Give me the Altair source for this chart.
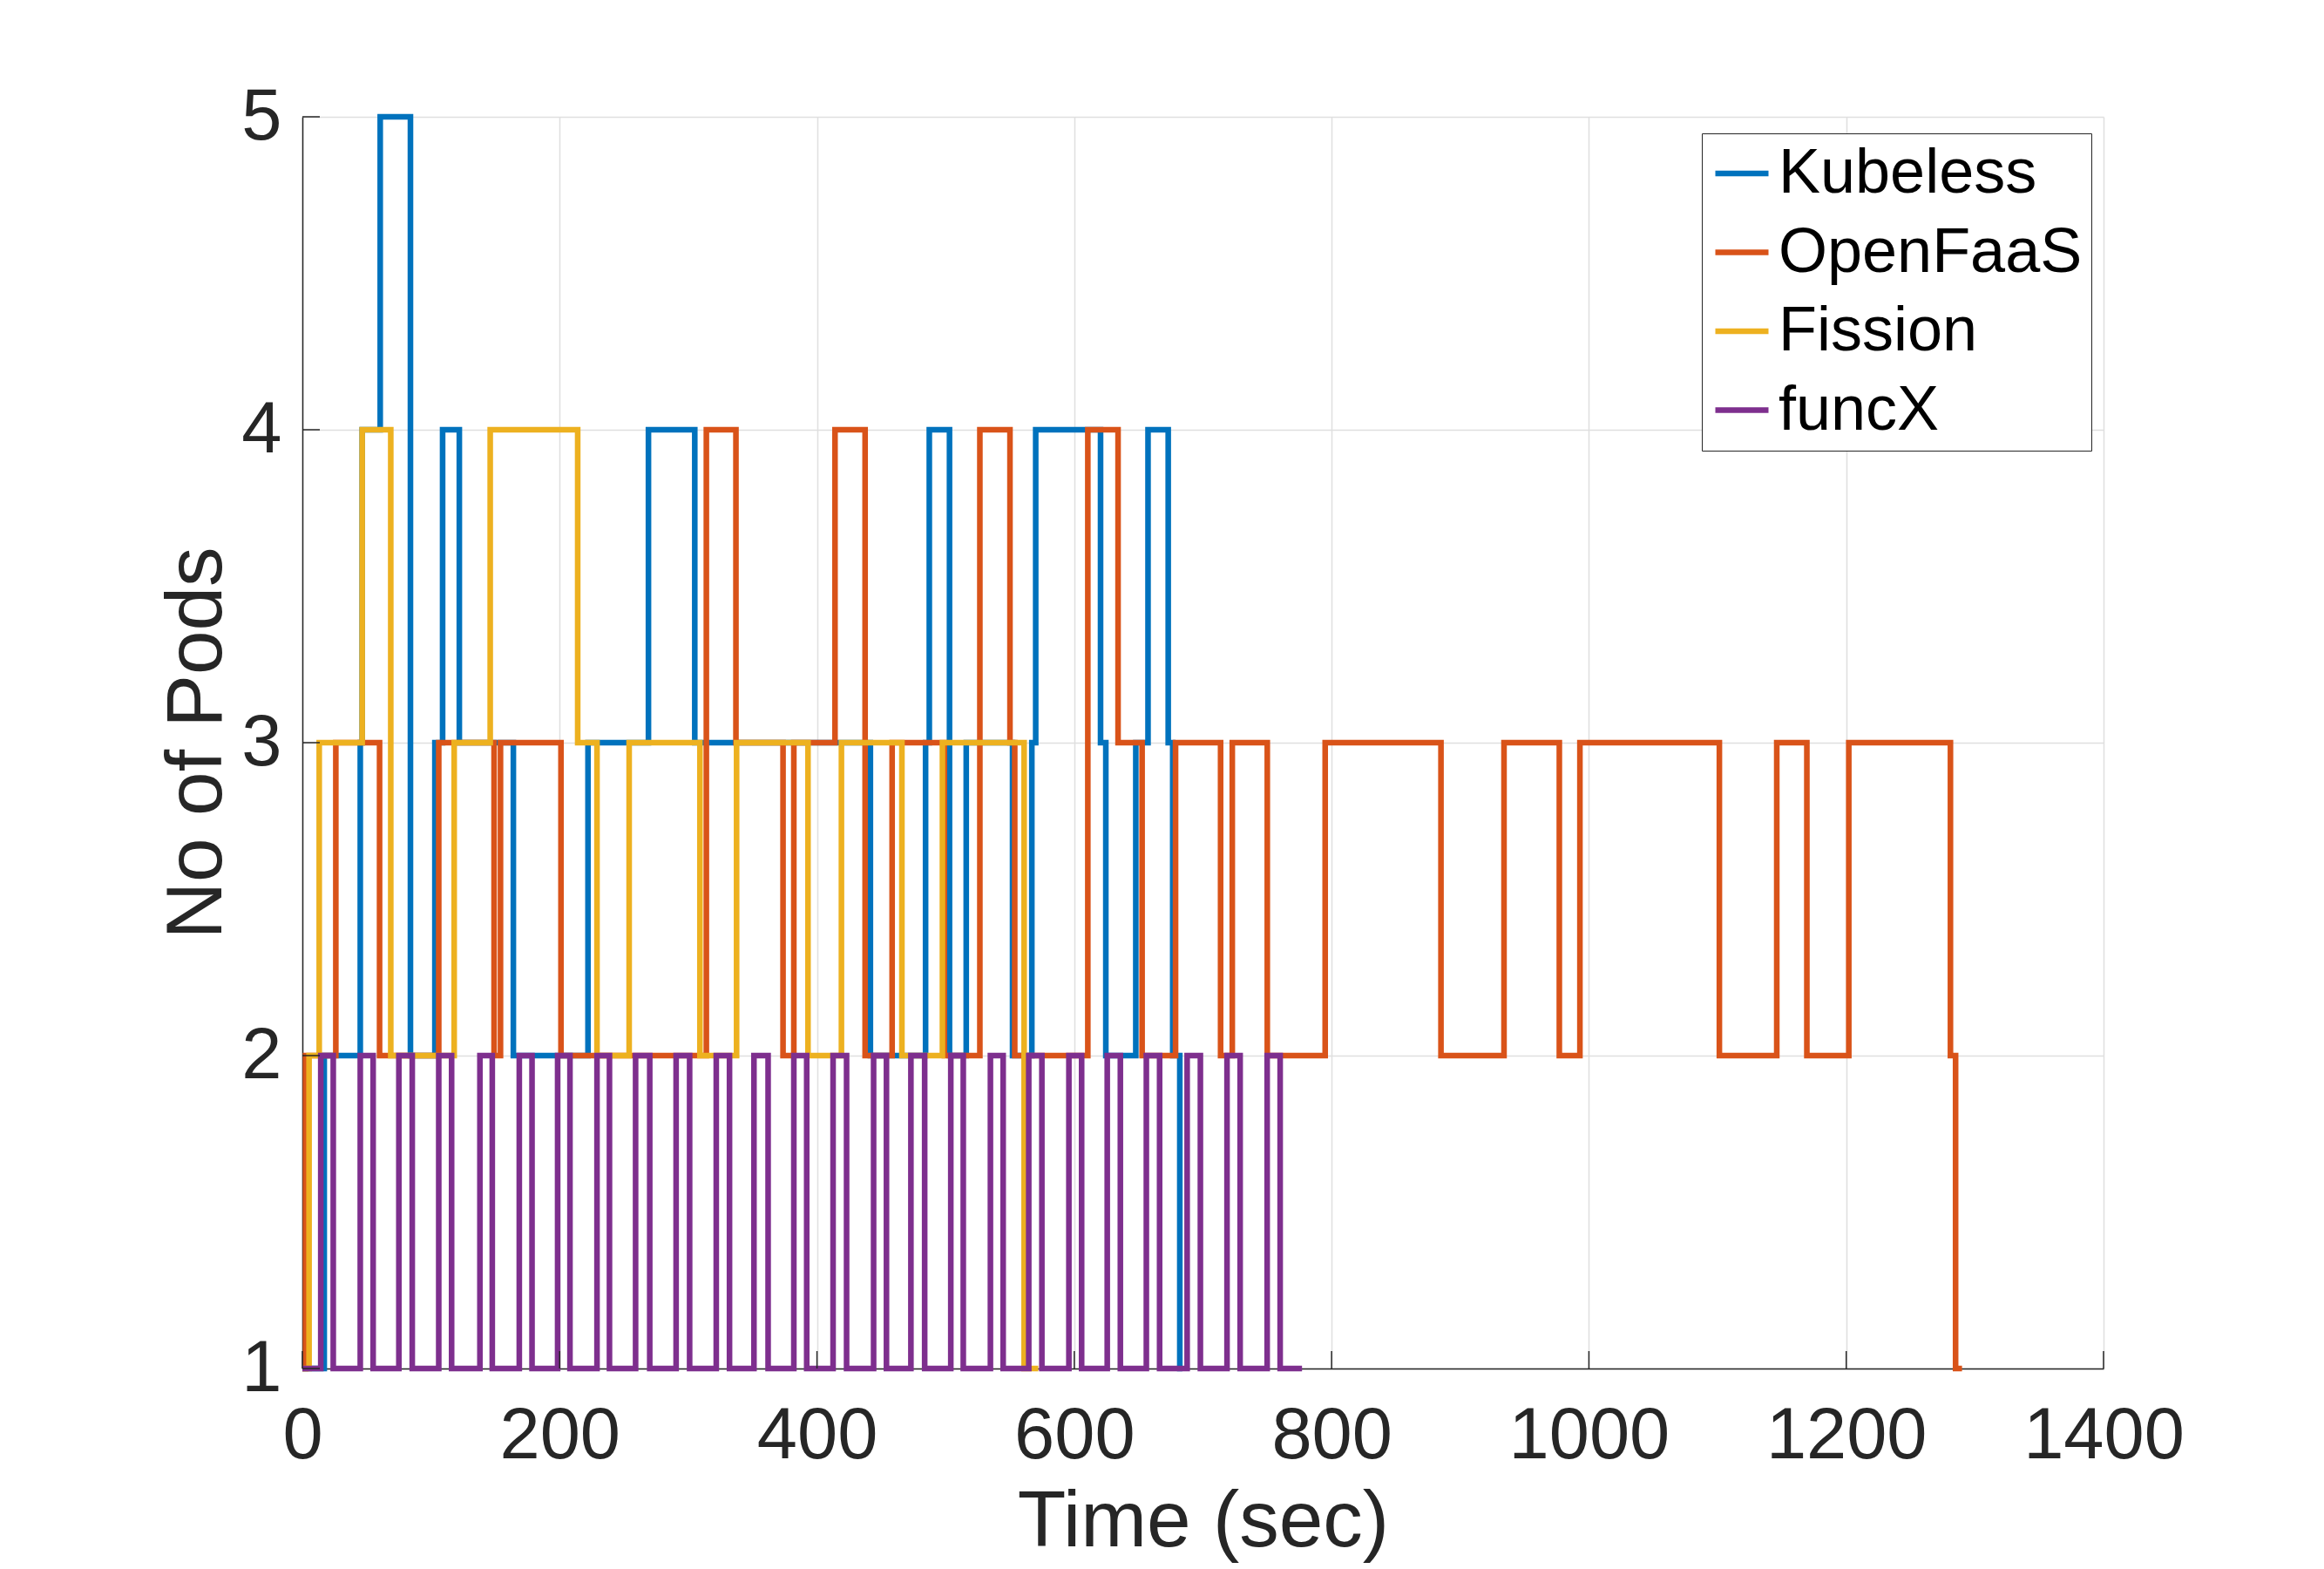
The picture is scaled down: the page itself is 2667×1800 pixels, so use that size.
import altair as alt
import pandas as pd

series_names = ["Kubeless", "OpenFaaS", "Fission", "funcX"]
series_colors = ["#0072BD", "#D95319", "#EDB120", "#7E2F8E"]

# Step change points (time in sec, number of pods from that time on)
kubeless_t = [0, 17, 45, 46.5, 60.5, 84, 103, 109, 122, 164, 222, 269, 305, 441.5, 484.4,
              487.3, 503, 516, 552, 567, 570, 620.4, 624.5, 647.8, 657.3, 673, 676.5, 682, 684]
kubeless_v = [1, 2, 3, 4, 5, 2, 3, 4, 3, 2, 3, 4, 3, 2, 3,
              4, 2, 3, 2, 3, 4, 3, 2, 3, 4, 3, 2, 1, 1]

openfaas_t = [0, 2.5, 26, 60, 106, 149, 154, 201, 314, 337, 373.6, 382, 414, 437.4, 458.4,
              499, 526.6, 550, 553.7, 610.5, 634, 652.7, 678.7, 713.7, 722.8, 750, 795, 885,
              934, 977, 993, 1101.4, 1146, 1169.4, 1202, 1281, 1285, 1290]
openfaas_v = [1, 2, 3, 2, 3, 2, 3, 2, 4, 3, 2, 3, 4, 2, 3,
              2, 4, 3, 2, 4, 3, 2, 3, 2, 3, 2, 3, 2,
              3, 2, 3, 2, 3, 2, 3, 2, 1, 1]

fission_t = [0, 5.2, 13.1, 46.5, 68.7, 118, 146, 214, 229, 254, 309, 337.5, 393, 419, 466,
             497.5, 561, 572]
fission_v = [1, 2, 3, 4, 2, 3, 4, 3, 2, 3, 2, 3, 2, 3, 2,
             3, 1, 1]

funcx_t = [0, 14.3, 24, 45, 55, 75, 85.4, 106, 116, 138, 147.6, 168.6, 178.5, 198.4, 208,
           229, 238.7, 259, 270, 290.5, 301, 321.7, 332, 351, 362, 382, 392, 412.5, 423,
           444, 454, 473, 483.7, 504, 513.7, 534.8, 544.7, 564.6, 574.8, 595.8, 605.7,
           625.6, 635.8, 656, 666.3, 687.7, 698, 718.7, 728.9, 749.9, 760, 777]
funcx_v = [1, 2, 1, 2, 1, 2, 1, 2, 1, 2, 1, 2, 1, 2, 1,
           2, 1, 2, 1, 2, 1, 2, 1, 2, 1, 2, 1, 2, 1,
           2, 1, 2, 1, 2, 1, 2, 1, 2, 1, 2, 1,
           2, 1, 2, 1, 2, 1, 2, 1, 2, 1, 1]

x_ticks = [0, 200, 400, 600, 800, 1000, 1200, 1400]
y_ticks = [1, 2, 3, 4, 5]

rows = []
for name, ts, vs in [("Kubeless", kubeless_t, kubeless_v),
                     ("OpenFaaS", openfaas_t, openfaas_v),
                     ("Fission", fission_t, fission_v),
                     ("funcX", funcx_t, funcx_v)]:
    for i, (t, v) in enumerate(zip(ts, vs)):
        rows.append({"series": name, "t": t, "v": v, "i": i})
df = pd.DataFrame(rows)

W, H = 2067, 1436
FONT = "Liberation Sans"
INK = "#262626"
GRID = "#DFDFDF"
LW = 6.5

x_scale = alt.Scale(domain=[0, 1400], nice=False, zero=False)
y_scale = alt.Scale(domain=[1, 5], nice=False, zero=False)

x_axis = alt.Axis(
    values=x_ticks, format="d", title="Time (sec)", titleFont=FONT, titleFontSize=91,
    titleFontWeight="normal", titleColor=INK, titleBaseline="alphabetic", titleY=203,
    labelFont=FONT, labelFontSize=83, labelColor=INK, labelPadding=36, labelFlush=False,
    labelOverlap=False, labelLimit=1000, ticks=False, tickSize=0, domainColor=INK,
    domainWidth=1.5, grid=True, gridColor=GRID, gridWidth=1.5,
)
y_axis = alt.Axis(
    values=y_ticks, format="d", title="No of Pods", titleFont=FONT, titleFontSize=91,
    titleFontWeight="normal", titleColor=INK, titleBaseline="alphabetic",
    titleX=-94, titleY=H / 2,
    labelFont=FONT, labelFontSize=83, labelColor=INK, labelPadding=24, labelFlush=False,
    labelOverlap=False, labelLimit=1000, ticks=False, tickSize=0, domainColor=INK,
    domainWidth=1.5, grid=True, gridColor=GRID, gridWidth=1.5,
)

color = alt.Color(
    "series:N",
    scale=alt.Scale(domain=series_names, range=series_colors),
    legend=alt.Legend(
        title=None, orient="none", legendX=1606, legendY=19,
        symbolType="stroke", symbolSize=3721, symbolStrokeWidth=LW,
        labelFont=FONT, labelFontSize=72, labelColor="#000000", labelLimit=1000,
        labelOffset=6, rowPadding=18.5, padding=10,
        strokeColor=INK, fillColor="white",
    ),
)

layers = []
for name in series_names:
    layers.append(
        alt.Chart(df)
        .transform_filter(alt.datum.series == name)
        .mark_line(interpolate="step-after", strokeWidth=LW)
        .encode(
            x=alt.X("t:Q", scale=x_scale, axis=x_axis),
            y=alt.Y("v:Q", scale=y_scale, axis=y_axis),
            color=color,
            order="i:Q",
        )
    )

x_tick_marks = (
    alt.Chart(pd.DataFrame({"t": x_ticks}))
    .mark_rule(color=INK, strokeWidth=1.5)
    .encode(x=alt.X("t:Q", scale=x_scale, axis=x_axis), y=alt.value(H), y2=alt.value(H - 20))
)
y_tick_marks = (
    alt.Chart(pd.DataFrame({"v": y_ticks}))
    .mark_rule(color=INK, strokeWidth=1.5)
    .encode(y=alt.Y("v:Q", scale=y_scale, axis=y_axis), x=alt.value(0), x2=alt.value(20))
)

chart = (
    alt.layer(*layers, x_tick_marks, y_tick_marks)
    .properties(
        width=W, height=H,
        autosize=alt.AutoSizeParams(type="none"),
        padding={"left": 339, "top": 126, "right": 240, "bottom": 224},
        background="white",
    )
    .configure_view(strokeWidth=0)
)

chart.save("out.html", embed_options={"renderer": "svg", "actions": False})
